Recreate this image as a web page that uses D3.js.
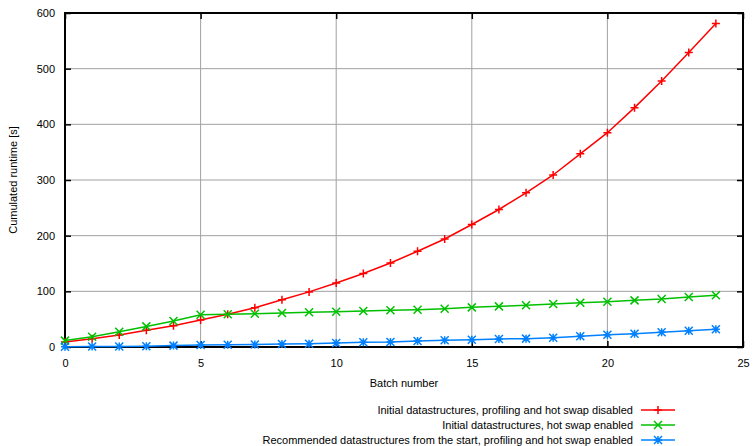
<!DOCTYPE html>
<html>
<head>
<meta charset="utf-8">
<script src="https://cdn.jsdelivr.net/npm/d3@7"></script>
<style>
  body { margin: 0; background: #fff; }
  svg { display: block; font-family: "Liberation Sans", Arial, sans-serif; }
</style>
</head>
<body>
<svg id="chart" width="753" height="446"></svg>
<script>
// ── Data ───────────────────────────────────────────────
const batches = d3.range(0, 25);
const redVals = [9, 15, 21.5, 30, 38, 48.5, 59, 70.6, 85, 99, 115, 132, 151, 172, 194, 220, 247, 277, 309, 347, 385, 430, 478, 529, 581];
const greenVals = [11.5, 18.5, 27.5, 37, 46.7, 58, 58.7, 59.8, 61, 62.3, 63.4, 64.6, 65.9, 67, 68.8, 71.2, 73, 74.9, 77.2, 79.6, 81.4, 83.8, 86.2, 89.8, 92.8];
const blueVals = [0.6, 0.8, 1, 1.5, 2.5, 3.6, 4, 4.5, 5.5, 6, 7.2, 8.4, 9, 10.8, 12, 13, 14.4, 15, 16.7, 19.2, 22.1, 23.9, 26.4, 29.3, 31.8];
const xTicks = [0, 5, 10, 15, 20, 25];
const yTicks = [0, 100, 200, 300, 400, 500, 600];
const seriesNames = [
  'Initial datastructures, profiling and hot swap disabled',
  'Initial datastructures, hot swap enabled',
  'Recommended datastructures from the start, profiling and hot swap enabled'
];

const series = [
  { name: seriesNames[0], vals: redVals,   color: '#ff0000', pt: 'plus' },
  { name: seriesNames[1], vals: greenVals, color: '#00c000', pt: 'cross' },
  { name: seriesNames[2], vals: blueVals,  color: '#0080ff', pt: 'star' }
];

// ── Layout ─────────────────────────────────────────────
const L = 65, R = 743, T = 13, B = 347;
const svg = d3.select('#chart');
const x = d3.scaleLinear().domain([0, 25]).range([L, R]);
const y = d3.scaleLinear().domain([0, 600]).range([B, T]);

// ── Grid ───────────────────────────────────────────────
const grid = svg.append('g').attr('stroke', '#a0a0a0').attr('stroke-width', 1);
xTicks.slice(1, -1).forEach(t => grid.append('line')
  .attr('x1', x(t)).attr('x2', x(t)).attr('y1', T).attr('y2', B));
yTicks.slice(1, -1).forEach(t => grid.append('line')
  .attr('x1', L).attr('x2', R).attr('y1', y(t)).attr('y2', y(t)));

// ── Axes (ticks inward, mirrored) ──────────────────────
const fontSize = '11px';
svg.append('g').attr('transform', `translate(0,${B})`)
  .call(d3.axisBottom(x).tickValues(xTicks).tickSize(-6).tickPadding(12).tickFormat(d3.format('d')));
svg.append('g').attr('transform', `translate(0,${T})`)
  .call(d3.axisTop(x).tickValues(xTicks).tickSize(-6).tickFormat(''));
svg.append('g').attr('transform', `translate(${L},0)`)
  .call(d3.axisLeft(y).tickValues(yTicks).tickSize(-6).tickPadding(10).tickFormat(d3.format('d')));
svg.append('g').attr('transform', `translate(${R},0)`)
  .call(d3.axisRight(y).tickValues(yTicks).tickSize(-6).tickFormat(''));
svg.selectAll('.domain').remove();
svg.selectAll('.tick line').attr('stroke', '#000').attr('stroke-width', 1.5);
svg.selectAll('.tick text').attr('font-size', fontSize).attr('fill', '#000')
  .attr('font-family', '"Liberation Sans", Arial, sans-serif');

svg.append('rect').attr('x', L).attr('y', T).attr('width', R - L).attr('height', B - T)
  .attr('fill', 'none').attr('stroke', '#000').attr('stroke-width', 2);

// ── Labels ─────────────────────────────────────────────
svg.append('text').attr('x', (L + R) / 2).attr('y', 387)
  .attr('text-anchor', 'middle').attr('font-size', fontSize).text('Batch number');
svg.append('text').attr('transform', `translate(17,${(T + B) / 2}) rotate(-90)`)
  .attr('text-anchor', 'middle').attr('font-size', fontSize).text('Cumulated runtime [s]');

// ── Point symbols ──────────────────────────────────────
function symbol(g, type, cx, cy, color) {
  const s = 4;
  const p = g.append('path').attr('fill', 'none').attr('stroke', color).attr('stroke-width', 1.5);
  const plus = `M${cx - s},${cy}H${cx + s}M${cx},${cy - s}V${cy + s}`;
  const cross = `M${cx - s},${cy - s}L${cx + s},${cy + s}M${cx - s},${cy + s}L${cx + s},${cy - s}`;
  p.attr('d', type === 'plus' ? plus : type === 'cross' ? cross : plus + cross);
}

// ── Series ─────────────────────────────────────────────
const line = d3.line().x(d => x(d[0])).y(d => y(d[1]));
series.forEach(s => {
  const pts = batches.map((b, i) => [b, s.vals[i]]);
  const g = svg.append('g');
  g.append('path').datum(pts).attr('d', line)
    .attr('fill', 'none').attr('stroke', s.color).attr('stroke-width', 1.5);
  pts.forEach(p => symbol(g, s.pt, x(p[0]), y(p[1]), s.color));
});

// ── Legend ─────────────────────────────────────────────
series.forEach((s, i) => {
  const ly = 410 + i * 15;
  const g = svg.append('g');
  g.append('text').attr('x', 633).attr('y', ly).attr('dy', '0.35em')
    .attr('text-anchor', 'end').attr('font-size', fontSize).text(s.name);
  g.append('line').attr('x1', 641).attr('x2', 675).attr('y1', ly).attr('y2', ly)
    .attr('stroke', s.color).attr('stroke-width', 1.5);
  symbol(g, s.pt, 658, ly, s.color);
});
</script>
</body>
</html>
